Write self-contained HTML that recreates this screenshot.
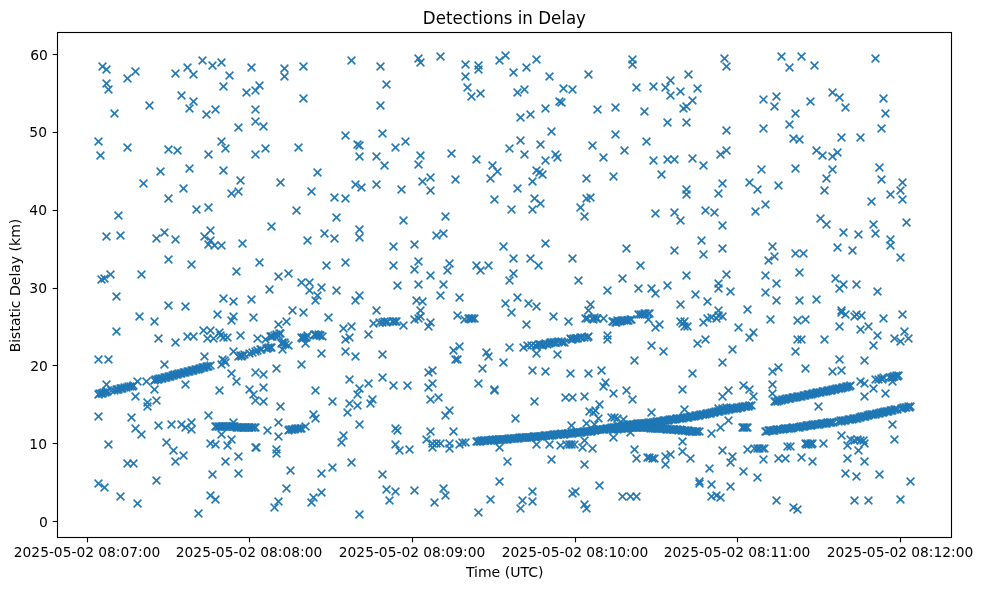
<!DOCTYPE html><html><head><meta charset="utf-8"><title>Detections in Delay</title>
<style>html,body{margin:0;padding:0;background:#fff}svg{display:block}text{font-family:"DejaVu Sans","Liberation Sans",sans-serif;fill:#000}</style></head><body>
<svg width="983" height="590" viewBox="0 0 983 590">
<rect width="983" height="590" fill="#fff"/>
<defs><g id="m" stroke="#1f77b4" stroke-width="1.5" fill="none"><path d="M-3.9-3.9L3.9 3.9"/><path d="M-3.9 3.9L3.9-3.9"/></g></defs>
<g>
<use href="#m" x="255.5" y="447.5"/>
<use href="#m" x="256.5" y="447.5"/>
<use href="#m" x="276.5" y="449.5"/>
<use href="#m" x="276.5" y="453.5"/>
<use href="#m" x="622.5" y="496.5"/>
<use href="#m" x="630.5" y="496.5"/>
<use href="#m" x="636.5" y="496.5"/>
<use href="#m" x="718.5" y="408.5"/>
<use href="#m" x="722.5" y="408.5"/>
<use href="#m" x="726.5" y="407.5"/>
<use href="#m" x="730.5" y="407.5"/>
<use href="#m" x="494.5" y="389.5"/>
<use href="#m" x="494.5" y="390.5"/>
<use href="#m" x="531.5" y="345.5"/>
<use href="#m" x="432.5" y="443.5"/>
<use href="#m" x="436.5" y="443.5"/>
<use href="#m" x="440.5" y="443.5"/>
<use href="#m" x="432.5" y="447.5"/>
<use href="#m" x="449.5" y="443.5"/>
<use href="#m" x="449.5" y="448.5"/>
<use href="#m" x="459.5" y="444.5"/>
<use href="#m" x="462.5" y="442.5"/>
<use href="#m" x="465.5" y="442.5"/>
<use href="#m" x="523.5" y="347.5"/>
<use href="#m" x="527.5" y="345.5"/>
<use href="#m" x="464.5" y="319.5"/>
<use href="#m" x="603.5" y="318.5"/>
<use href="#m" x="860.5" y="381.5"/>
<use href="#m" x="864.5" y="383.5"/>
<use href="#m" x="823.5" y="443.5"/>
<use href="#m" x="185.5" y="384.5"/>
<use href="#m" x="154.5" y="389.5"/>
<use href="#m" x="231.5" y="320.5"/>
<use href="#m" x="231.5" y="373.5"/>
<use href="#m" x="236.5" y="381.5"/>
<use href="#m" x="204.5" y="356.5"/>
<use href="#m" x="233.5" y="351.5"/>
<use href="#m" x="187.5" y="336.5"/>
<use href="#m" x="193.5" y="336.5"/>
<use href="#m" x="203.5" y="330.5"/>
<use href="#m" x="210.5" y="330.5"/>
<use href="#m" x="219.5" y="332.5"/>
<use href="#m" x="207.5" y="338.5"/>
<use href="#m" x="213.5" y="338.5"/>
<use href="#m" x="220.5" y="335.5"/>
<use href="#m" x="223.5" y="337.5"/>
<use href="#m" x="227.5" y="337.5"/>
<use href="#m" x="222.5" y="359.5"/>
<use href="#m" x="224.5" y="360.5"/>
<use href="#m" x="225.5" y="362.5"/>
<use href="#m" x="221.5" y="364.5"/>
<use href="#m" x="430.5" y="177.5"/>
<use href="#m" x="613.5" y="176.5"/>
<use href="#m" x="449.5" y="263.5"/>
<use href="#m" x="282.5" y="349.5"/>
<use href="#m" x="732.5" y="349.5"/>
<use href="#m" x="141.5" y="434.5"/>
<use href="#m" x="572.5" y="89.5"/>
<use href="#m" x="586.5" y="178.5"/>
<use href="#m" x="191.5" y="264.5"/>
<use href="#m" x="453.5" y="350.5"/>
<use href="#m" x="711.5" y="433.5"/>
<use href="#m" x="630.5" y="432.5"/>
<use href="#m" x="480.5" y="93.5"/>
<use href="#m" x="455.5" y="179.5"/>
<use href="#m" x="881.5" y="179.5"/>
<use href="#m" x="326.5" y="265.5"/>
<use href="#m" x="476.5" y="265.5"/>
<use href="#m" x="768.5" y="260.5"/>
<use href="#m" x="343.5" y="435.5"/>
<use href="#m" x="613.5" y="437.5"/>
<use href="#m" x="459.5" y="346.5"/>
<use href="#m" x="278.5" y="436.5"/>
<use href="#m" x="467.5" y="87.5"/>
<use href="#m" x="168.5" y="259.5"/>
<use href="#m" x="488.5" y="265.5"/>
<use href="#m" x="486.5" y="352.5"/>
<use href="#m" x="873.5" y="345.5"/>
<use href="#m" x="430.5" y="431.5"/>
<use href="#m" x="453.5" y="431.5"/>
<use href="#m" x="181.5" y="95.5"/>
<use href="#m" x="345.5" y="262.5"/>
<use href="#m" x="321.5" y="353.5"/>
<use href="#m" x="426.5" y="439.5"/>
<use href="#m" x="894.5" y="439.5"/>
<use href="#m" x="317.5" y="172.5"/>
<use href="#m" x="422.5" y="181.5"/>
<use href="#m" x="572.5" y="258.5"/>
<use href="#m" x="345.5" y="351.5"/>
<use href="#m" x="857.5" y="439.5"/>
<use href="#m" x="854.5" y="440.5"/>
<use href="#m" x="860.5" y="440.5"/>
<use href="#m" x="863.5" y="440.5"/>
<use href="#m" x="776.5" y="96.5"/>
<use href="#m" x="160.5" y="171.5"/>
<use href="#m" x="280.5" y="182.5"/>
<use href="#m" x="490.5" y="178.5"/>
<use href="#m" x="749.5" y="182.5"/>
<use href="#m" x="902.5" y="182.5"/>
<use href="#m" x="900.5" y="257.5"/>
<use href="#m" x="191.5" y="429.5"/>
<use href="#m" x="584.5" y="440.5"/>
<use href="#m" x="471.5" y="96.5"/>
<use href="#m" x="563.5" y="88.5"/>
<use href="#m" x="305.5" y="343.5"/>
<use href="#m" x="850.5" y="439.5"/>
<use href="#m" x="143.5" y="183.5"/>
<use href="#m" x="722.5" y="183.5"/>
<use href="#m" x="418.5" y="261.5"/>
<use href="#m" x="774.5" y="256.5"/>
<use href="#m" x="175.5" y="342.5"/>
<use href="#m" x="135.5" y="428.5"/>
<use href="#m" x="303.5" y="98.5"/>
<use href="#m" x="636.5" y="87.5"/>
<use href="#m" x="761.5" y="169.5"/>
<use href="#m" x="447.5" y="270.5"/>
<use href="#m" x="480.5" y="270.5"/>
<use href="#m" x="488.5" y="356.5"/>
<use href="#m" x="900.5" y="341.5"/>
<use href="#m" x="185.5" y="427.5"/>
<use href="#m" x="166.5" y="442.5"/>
<use href="#m" x="341.5" y="442.5"/>
<use href="#m" x="720.5" y="427.5"/>
<use href="#m" x="198.5" y="513.5"/>
<use href="#m" x="883.5" y="98.5"/>
<use href="#m" x="763.5" y="99.5"/>
<use href="#m" x="189.5" y="168.5"/>
<use href="#m" x="778.5" y="185.5"/>
<use href="#m" x="864.5" y="443.5"/>
<use href="#m" x="478.5" y="512.5"/>
<use href="#m" x="879.5" y="167.5"/>
<use href="#m" x="345.5" y="339.5"/>
<use href="#m" x="705.5" y="339.5"/>
<use href="#m" x="158.5" y="425.5"/>
<use href="#m" x="571.5" y="425.5"/>
<use href="#m" x="566.5" y="444.5"/>
<use href="#m" x="569.5" y="444.5"/>
<use href="#m" x="571.5" y="444.5"/>
<use href="#m" x="574.5" y="444.5"/>
<use href="#m" x="703.5" y="254.5"/>
<use href="#m" x="607.5" y="339.5"/>
<use href="#m" x="455.5" y="359.5"/>
<use href="#m" x="193.5" y="101.5"/>
<use href="#m" x="288.5" y="273.5"/>
<use href="#m" x="414.5" y="269.5"/>
<use href="#m" x="158.5" y="338.5"/>
<use href="#m" x="894.5" y="338.5"/>
<use href="#m" x="908.5" y="338.5"/>
<use href="#m" x="171.5" y="424.5"/>
<use href="#m" x="181.5" y="424.5"/>
<use href="#m" x="560.5" y="445.5"/>
<use href="#m" x="892.5" y="424.5"/>
<use href="#m" x="847.5" y="445.5"/>
<use href="#m" x="594.5" y="424.5"/>
<use href="#m" x="559.5" y="101.5"/>
<use href="#m" x="457.5" y="359.5"/>
<use href="#m" x="561.5" y="102.5"/>
<use href="#m" x="183.5" y="188.5"/>
<use href="#m" x="492.5" y="165.5"/>
<use href="#m" x="703.5" y="165.5"/>
<use href="#m" x="141.5" y="274.5"/>
<use href="#m" x="640.5" y="265.5"/>
<use href="#m" x="726.5" y="274.5"/>
<use href="#m" x="349.5" y="337.5"/>
<use href="#m" x="634.5" y="360.5"/>
<use href="#m" x="749.5" y="337.5"/>
<use href="#m" x="864.5" y="360.5"/>
<use href="#m" x="586.5" y="423.5"/>
<use href="#m" x="557.5" y="354.5"/>
<use href="#m" x="127.5" y="78.5"/>
<use href="#m" x="418.5" y="164.5"/>
<use href="#m" x="497.5" y="171.5"/>
<use href="#m" x="757.5" y="189.5"/>
<use href="#m" x="430.5" y="275.5"/>
<use href="#m" x="765.5" y="275.5"/>
<use href="#m" x="852.5" y="250.5"/>
<use href="#m" x="191.5" y="422.5"/>
<use href="#m" x="278.5" y="422.5"/>
<use href="#m" x="582.5" y="447.5"/>
<use href="#m" x="586.5" y="508.5"/>
<use href="#m" x="210.5" y="443.5"/>
<use href="#m" x="430.5" y="190.5"/>
<use href="#m" x="900.5" y="190.5"/>
<use href="#m" x="278.5" y="276.5"/>
<use href="#m" x="607.5" y="335.5"/>
<use href="#m" x="722.5" y="362.5"/>
<use href="#m" x="877.5" y="335.5"/>
<use href="#m" x="267.5" y="430.5"/>
<use href="#m" x="592.5" y="448.5"/>
<use href="#m" x="757.5" y="448.5"/>
<use href="#m" x="759.5" y="448.5"/>
<use href="#m" x="764.5" y="448.5"/>
<use href="#m" x="274.5" y="507.5"/>
<use href="#m" x="754.5" y="448.5"/>
<use href="#m" x="762.5" y="448.5"/>
<use href="#m" x="787.5" y="446.5"/>
<use href="#m" x="355.5" y="184.5"/>
<use href="#m" x="499.5" y="447.5"/>
<use href="#m" x="149.5" y="105.5"/>
<use href="#m" x="284.5" y="76.5"/>
<use href="#m" x="465.5" y="76.5"/>
<use href="#m" x="311.5" y="191.5"/>
<use href="#m" x="626.5" y="248.5"/>
<use href="#m" x="722.5" y="248.5"/>
<use href="#m" x="355.5" y="356.5"/>
<use href="#m" x="634.5" y="449.5"/>
<use href="#m" x="728.5" y="420.5"/>
<use href="#m" x="747.5" y="449.5"/>
<use href="#m" x="697.5" y="88.5"/>
<use href="#m" x="774.5" y="106.5"/>
<use href="#m" x="622.5" y="278.5"/>
<use href="#m" x="164.5" y="364.5"/>
<use href="#m" x="301.5" y="364.5"/>
<use href="#m" x="697.5" y="343.5"/>
<use href="#m" x="173.5" y="450.5"/>
<use href="#m" x="409.5" y="449.5"/>
<use href="#m" x="722.5" y="450.5"/>
<use href="#m" x="841.5" y="435.5"/>
<use href="#m" x="858.5" y="450.5"/>
<use href="#m" x="623.5" y="419.5"/>
<use href="#m" x="588.5" y="74.5"/>
<use href="#m" x="615.5" y="107.5"/>
<use href="#m" x="845.5" y="107.5"/>
<use href="#m" x="718.5" y="193.5"/>
<use href="#m" x="772.5" y="246.5"/>
<use href="#m" x="753.5" y="332.5"/>
<use href="#m" x="315.5" y="418.5"/>
<use href="#m" x="598.5" y="418.5"/>
<use href="#m" x="584.5" y="504.5"/>
<use href="#m" x="193.5" y="74.5"/>
<use href="#m" x="617.5" y="418.5"/>
<use href="#m" x="790.5" y="446.5"/>
<use href="#m" x="614.5" y="417.5"/>
<use href="#m" x="175.5" y="73.5"/>
<use href="#m" x="476.5" y="159.5"/>
<use href="#m" x="189.5" y="108.5"/>
<use href="#m" x="839.5" y="97.5"/>
<use href="#m" x="890.5" y="194.5"/>
<use href="#m" x="578.5" y="280.5"/>
<use href="#m" x="890.5" y="245.5"/>
<use href="#m" x="904.5" y="331.5"/>
<use href="#m" x="839.5" y="359.5"/>
<use href="#m" x="131.5" y="417.5"/>
<use href="#m" x="611.5" y="417.5"/>
<use href="#m" x="137.5" y="503.5"/>
<use href="#m" x="214.5" y="245.5"/>
<use href="#m" x="208.5" y="244.5"/>
<use href="#m" x="503.5" y="246.5"/>
<use href="#m" x="503.5" y="362.5"/>
<use href="#m" x="215.5" y="444.5"/>
<use href="#m" x="359.5" y="424.5"/>
<use href="#m" x="359.5" y="514.5"/>
<use href="#m" x="215.5" y="109.5"/>
<use href="#m" x="778.5" y="367.5"/>
<use href="#m" x="597.5" y="109.5"/>
<use href="#m" x="414.5" y="244.5"/>
<use href="#m" x="311.5" y="502.5"/>
<use href="#m" x="434.5" y="502.5"/>
<use href="#m" x="309.5" y="282.5"/>
<use href="#m" x="135.5" y="71.5"/>
<use href="#m" x="557.5" y="157.5"/>
<use href="#m" x="603.5" y="157.5"/>
<use href="#m" x="301.5" y="282.5"/>
<use href="#m" x="837.5" y="247.5"/>
<use href="#m" x="276.5" y="368.5"/>
<use href="#m" x="482.5" y="368.5"/>
<use href="#m" x="860.5" y="329.5"/>
<use href="#m" x="208.5" y="415.5"/>
<use href="#m" x="445.5" y="415.5"/>
<use href="#m" x="549.5" y="444.5"/>
<use href="#m" x="278.5" y="501.5"/>
<use href="#m" x="549.5" y="76.5"/>
<use href="#m" x="590.5" y="197.5"/>
<use href="#m" x="359.5" y="156.5"/>
<use href="#m" x="361.5" y="187.5"/>
<use href="#m" x="793.5" y="507.5"/>
<use href="#m" x="644.5" y="111.5"/>
<use href="#m" x="692.5" y="100.5"/>
<use href="#m" x="334.5" y="197.5"/>
<use href="#m" x="692.5" y="158.5"/>
<use href="#m" x="776.5" y="283.5"/>
<use href="#m" x="116.5" y="331.5"/>
<use href="#m" x="343.5" y="328.5"/>
<use href="#m" x="183.5" y="455.5"/>
<use href="#m" x="313.5" y="414.5"/>
<use href="#m" x="776.5" y="500.5"/>
<use href="#m" x="854.5" y="500.5"/>
<use href="#m" x="868.5" y="500.5"/>
<use href="#m" x="718.5" y="283.5"/>
<use href="#m" x="259.5" y="85.5"/>
<use href="#m" x="168.5" y="198.5"/>
<use href="#m" x="420.5" y="155.5"/>
<use href="#m" x="259.5" y="262.5"/>
<use href="#m" x="418.5" y="284.5"/>
<use href="#m" x="443.5" y="284.5"/>
<use href="#m" x="835.5" y="278.5"/>
<use href="#m" x="843.5" y="284.5"/>
<use href="#m" x="856.5" y="284.5"/>
<use href="#m" x="432.5" y="370.5"/>
<use href="#m" x="601.5" y="370.5"/>
<use href="#m" x="738.5" y="327.5"/>
<use href="#m" x="841.5" y="370.5"/>
<use href="#m" x="732.5" y="456.5"/>
<use href="#m" x="215.5" y="499.5"/>
<use href="#m" x="490.5" y="499.5"/>
<use href="#m" x="900.5" y="499.5"/>
<use href="#m" x="478.5" y="69.5"/>
<use href="#m" x="345.5" y="198.5"/>
<use href="#m" x="586.5" y="198.5"/>
<use href="#m" x="114.5" y="113.5"/>
<use href="#m" x="795.5" y="113.5"/>
<use href="#m" x="795.5" y="168.5"/>
<use href="#m" x="795.5" y="253.5"/>
<use href="#m" x="651.5" y="345.5"/>
<use href="#m" x="795.5" y="351.5"/>
<use href="#m" x="284.5" y="68.5"/>
<use href="#m" x="885.5" y="113.5"/>
<use href="#m" x="208.5" y="154.5"/>
<use href="#m" x="494.5" y="199.5"/>
<use href="#m" x="555.5" y="154.5"/>
<use href="#m" x="720.5" y="154.5"/>
<use href="#m" x="902.5" y="199.5"/>
<use href="#m" x="210.5" y="240.5"/>
<use href="#m" x="307.5" y="240.5"/>
<use href="#m" x="701.5" y="240.5"/>
<use href="#m" x="351.5" y="326.5"/>
<use href="#m" x="428.5" y="326.5"/>
<use href="#m" x="772.5" y="371.5"/>
<use href="#m" x="839.5" y="326.5"/>
<use href="#m" x="868.5" y="326.5"/>
<use href="#m" x="347.5" y="412.5"/>
<use href="#m" x="651.5" y="412.5"/>
<use href="#m" x="649.5" y="457.5"/>
<use href="#m" x="593.5" y="412.5"/>
<use href="#m" x="647.5" y="457.5"/>
<use href="#m" x="652.5" y="458.5"/>
<use href="#m" x="206.5" y="114.5"/>
<use href="#m" x="789.5" y="67.5"/>
<use href="#m" x="451.5" y="153.5"/>
<use href="#m" x="175.5" y="239.5"/>
<use href="#m" x="890.5" y="239.5"/>
<use href="#m" x="403.5" y="325.5"/>
<use href="#m" x="428.5" y="372.5"/>
<use href="#m" x="636.5" y="458.5"/>
<use href="#m" x="690.5" y="458.5"/>
<use href="#m" x="778.5" y="458.5"/>
<use href="#m" x="785.5" y="458.5"/>
<use href="#m" x="847.5" y="458.5"/>
<use href="#m" x="313.5" y="497.5"/>
<use href="#m" x="720.5" y="497.5"/>
<use href="#m" x="187.5" y="67.5"/>
<use href="#m" x="545.5" y="108.5"/>
<use href="#m" x="401.5" y="189.5"/>
<use href="#m" x="545.5" y="160.5"/>
<use href="#m" x="545.5" y="243.5"/>
<use href="#m" x="257.5" y="338.5"/>
<use href="#m" x="545.5" y="371.5"/>
<use href="#m" x="589.5" y="411.5"/>
<use href="#m" x="653.5" y="86.5"/>
<use href="#m" x="653.5" y="160.5"/>
<use href="#m" x="509.5" y="280.5"/>
<use href="#m" x="509.5" y="347.5"/>
<use href="#m" x="797.5" y="339.5"/>
<use href="#m" x="221.5" y="434.5"/>
<use href="#m" x="595.5" y="410.5"/>
<use href="#m" x="797.5" y="509.5"/>
<use href="#m" x="303.5" y="66.5"/>
<use href="#m" x="688.5" y="74.5"/>
<use href="#m" x="726.5" y="66.5"/>
<use href="#m" x="832.5" y="92.5"/>
<use href="#m" x="832.5" y="156.5"/>
<use href="#m" x="837.5" y="152.5"/>
<use href="#m" x="832.5" y="169.5"/>
<use href="#m" x="871.5" y="201.5"/>
<use href="#m" x="156.5" y="238.5"/>
<use href="#m" x="334.5" y="238.5"/>
<use href="#m" x="321.5" y="287.5"/>
<use href="#m" x="278.5" y="324.5"/>
<use href="#m" x="570.5" y="373.5"/>
<use href="#m" x="588.5" y="373.5"/>
<use href="#m" x="692.5" y="373.5"/>
<use href="#m" x="832.5" y="371.5"/>
<use href="#m" x="449.5" y="410.5"/>
<use href="#m" x="551.5" y="459.5"/>
<use href="#m" x="763.5" y="459.5"/>
<use href="#m" x="120.5" y="496.5"/>
<use href="#m" x="711.5" y="496.5"/>
<use href="#m" x="221.5" y="245.5"/>
<use href="#m" x="212.5" y="65.5"/>
<use href="#m" x="359.5" y="237.5"/>
<use href="#m" x="638.5" y="288.5"/>
<use href="#m" x="651.5" y="288.5"/>
<use href="#m" x="718.5" y="288.5"/>
<use href="#m" x="839.5" y="288.5"/>
<use href="#m" x="263.5" y="374.5"/>
<use href="#m" x="210.5" y="495.5"/>
<use href="#m" x="445.5" y="495.5"/>
<use href="#m" x="716.5" y="495.5"/>
<use href="#m" x="255.5" y="90.5"/>
<use href="#m" x="255.5" y="109.5"/>
<use href="#m" x="478.5" y="65.5"/>
<use href="#m" x="255.5" y="154.5"/>
<use href="#m" x="255.5" y="372.5"/>
<use href="#m" x="399.5" y="450.5"/>
<use href="#m" x="687.5" y="326.5"/>
<use href="#m" x="654.5" y="458.5"/>
<use href="#m" x="223.5" y="86.5"/>
<use href="#m" x="465.5" y="64.5"/>
<use href="#m" x="632.5" y="64.5"/>
<use href="#m" x="542.5" y="174.5"/>
<use href="#m" x="110.5" y="274.5"/>
<use href="#m" x="686.5" y="106.5"/>
<use href="#m" x="177.5" y="150.5"/>
<use href="#m" x="223.5" y="170.5"/>
<use href="#m" x="624.5" y="150.5"/>
<use href="#m" x="726.5" y="150.5"/>
<use href="#m" x="686.5" y="189.5"/>
<use href="#m" x="686.5" y="194.5"/>
<use href="#m" x="204.5" y="236.5"/>
<use href="#m" x="269.5" y="289.5"/>
<use href="#m" x="799.5" y="272.5"/>
<use href="#m" x="686.5" y="275.5"/>
<use href="#m" x="430.5" y="322.5"/>
<use href="#m" x="655.5" y="327.5"/>
<use href="#m" x="703.5" y="322.5"/>
<use href="#m" x="175.5" y="461.5"/>
<use href="#m" x="507.5" y="461.5"/>
<use href="#m" x="864.5" y="461.5"/>
<use href="#m" x="168.5" y="149.5"/>
<use href="#m" x="765.5" y="204.5"/>
<use href="#m" x="336.5" y="290.5"/>
<use href="#m" x="607.5" y="290.5"/>
<use href="#m" x="368.5" y="334.5"/>
<use href="#m" x="351.5" y="462.5"/>
<use href="#m" x="730.5" y="462.5"/>
<use href="#m" x="120.5" y="235.5"/>
<use href="#m" x="309.5" y="290.5"/>
<use href="#m" x="436.5" y="235.5"/>
<use href="#m" x="397.5" y="285.5"/>
<use href="#m" x="154.5" y="321.5"/>
<use href="#m" x="286.5" y="321.5"/>
<use href="#m" x="568.5" y="321.5"/>
<use href="#m" x="397.5" y="430.5"/>
<use href="#m" x="572.5" y="493.5"/>
<use href="#m" x="108.5" y="89.5"/>
<use href="#m" x="420.5" y="62.5"/>
<use href="#m" x="513.5" y="72.5"/>
<use href="#m" x="225.5" y="148.5"/>
<use href="#m" x="265.5" y="148.5"/>
<use href="#m" x="509.5" y="148.5"/>
<use href="#m" x="540.5" y="203.5"/>
<use href="#m" x="513.5" y="258.5"/>
<use href="#m" x="513.5" y="273.5"/>
<use href="#m" x="730.5" y="291.5"/>
<use href="#m" x="858.5" y="234.5"/>
<use href="#m" x="877.5" y="291.5"/>
<use href="#m" x="108.5" y="359.5"/>
<use href="#m" x="797.5" y="320.5"/>
<use href="#m" x="801.5" y="339.5"/>
<use href="#m" x="684.5" y="321.5"/>
<use href="#m" x="684.5" y="326.5"/>
<use href="#m" x="147.5" y="406.5"/>
<use href="#m" x="108.5" y="444.5"/>
<use href="#m" x="127.5" y="463.5"/>
<use href="#m" x="133.5" y="463.5"/>
<use href="#m" x="225.5" y="461.5"/>
<use href="#m" x="280.5" y="406.5"/>
<use href="#m" x="684.5" y="409.5"/>
<use href="#m" x="801.5" y="457.5"/>
<use href="#m" x="321.5" y="492.5"/>
<use href="#m" x="221.5" y="62.5"/>
<use href="#m" x="683.5" y="108.5"/>
<use href="#m" x="539.5" y="172.5"/>
<use href="#m" x="251.5" y="67.5"/>
<use href="#m" x="127.5" y="147.5"/>
<use href="#m" x="298.5" y="147.5"/>
<use href="#m" x="395.5" y="147.5"/>
<use href="#m" x="324.5" y="233.5"/>
<use href="#m" x="443.5" y="233.5"/>
<use href="#m" x="765.5" y="292.5"/>
<use href="#m" x="875.5" y="233.5"/>
<use href="#m" x="414.5" y="319.5"/>
<use href="#m" x="648.5" y="319.5"/>
<use href="#m" x="770.5" y="319.5"/>
<use href="#m" x="357.5" y="405.5"/>
<use href="#m" x="395.5" y="428.5"/>
<use href="#m" x="395.5" y="444.5"/>
<use href="#m" x="584.5" y="464.5"/>
<use href="#m" x="395.5" y="491.5"/>
<use href="#m" x="575.5" y="491.5"/>
<use href="#m" x="106.5" y="69.5"/>
<use href="#m" x="255.5" y="121.5"/>
<use href="#m" x="499.5" y="60.5"/>
<use href="#m" x="202.5" y="60.5"/>
<use href="#m" x="351.5" y="60.5"/>
<use href="#m" x="208.5" y="207.5"/>
<use href="#m" x="580.5" y="207.5"/>
<use href="#m" x="826.5" y="178.5"/>
<use href="#m" x="106.5" y="236.5"/>
<use href="#m" x="164.5" y="232.5"/>
<use href="#m" x="538.5" y="265.5"/>
<use href="#m" x="655.5" y="293.5"/>
<use href="#m" x="803.5" y="253.5"/>
<use href="#m" x="843.5" y="232.5"/>
<use href="#m" x="349.5" y="379.5"/>
<use href="#m" x="659.5" y="324.5"/>
<use href="#m" x="682.5" y="323.5"/>
<use href="#m" x="707.5" y="318.5"/>
<use href="#m" x="716.5" y="318.5"/>
<use href="#m" x="883.5" y="318.5"/>
<use href="#m" x="227.5" y="445.5"/>
<use href="#m" x="515.5" y="418.5"/>
<use href="#m" x="599.5" y="404.5"/>
<use href="#m" x="682.5" y="441.5"/>
<use href="#m" x="682.5" y="451.5"/>
<use href="#m" x="414.5" y="490.5"/>
<use href="#m" x="106.5" y="83.5"/>
<use href="#m" x="418.5" y="318.5"/>
<use href="#m" x="711.5" y="317.5"/>
<use href="#m" x="393.5" y="246.5"/>
<use href="#m" x="393.5" y="265.5"/>
<use href="#m" x="632.5" y="59.5"/>
<use href="#m" x="686.5" y="122.5"/>
<use href="#m" x="359.5" y="145.5"/>
<use href="#m" x="592.5" y="145.5"/>
<use href="#m" x="695.5" y="294.5"/>
<use href="#m" x="253.5" y="317.5"/>
<use href="#m" x="328.5" y="317.5"/>
<use href="#m" x="349.5" y="403.5"/>
<use href="#m" x="370.5" y="403.5"/>
<use href="#m" x="892.5" y="381.5"/>
<use href="#m" x="517.5" y="92.5"/>
<use href="#m" x="517.5" y="188.5"/>
<use href="#m" x="661.5" y="174.5"/>
<use href="#m" x="373.5" y="323.5"/>
<use href="#m" x="805.5" y="368.5"/>
<use href="#m" x="418.5" y="58.5"/>
<use href="#m" x="536.5" y="59.5"/>
<use href="#m" x="680.5" y="91.5"/>
<use href="#m" x="724.5" y="58.5"/>
<use href="#m" x="875.5" y="58.5"/>
<use href="#m" x="196.5" y="209.5"/>
<use href="#m" x="357.5" y="144.5"/>
<use href="#m" x="511.5" y="209.5"/>
<use href="#m" x="540.5" y="144.5"/>
<use href="#m" x="824.5" y="190.5"/>
<use href="#m" x="210.5" y="230.5"/>
<use href="#m" x="104.5" y="278.5"/>
<use href="#m" x="317.5" y="295.5"/>
<use href="#m" x="359.5" y="295.5"/>
<use href="#m" x="440.5" y="295.5"/>
<use href="#m" x="139.5" y="316.5"/>
<use href="#m" x="137.5" y="381.5"/>
<use href="#m" x="146.5" y="381.5"/>
<use href="#m" x="420.5" y="316.5"/>
<use href="#m" x="553.5" y="316.5"/>
<use href="#m" x="536.5" y="353.5"/>
<use href="#m" x="680.5" y="321.5"/>
<use href="#m" x="722.5" y="316.5"/>
<use href="#m" x="854.5" y="316.5"/>
<use href="#m" x="824.5" y="339.5"/>
<use href="#m" x="147.5" y="402.5"/>
<use href="#m" x="332.5" y="467.5"/>
<use href="#m" x="536.5" y="444.5"/>
<use href="#m" x="286.5" y="488.5"/>
<use href="#m" x="443.5" y="488.5"/>
<use href="#m" x="229.5" y="75.5"/>
<use href="#m" x="805.5" y="319.5"/>
<use href="#m" x="536.5" y="170.5"/>
<use href="#m" x="789.5" y="124.5"/>
<use href="#m" x="296.5" y="210.5"/>
<use href="#m" x="705.5" y="210.5"/>
<use href="#m" x="116.5" y="296.5"/>
<use href="#m" x="359.5" y="229.5"/>
<use href="#m" x="457.5" y="315.5"/>
<use href="#m" x="605.5" y="382.5"/>
<use href="#m" x="718.5" y="315.5"/>
<use href="#m" x="861.5" y="315.5"/>
<use href="#m" x="263.5" y="401.5"/>
<use href="#m" x="332.5" y="401.5"/>
<use href="#m" x="709.5" y="468.5"/>
<use href="#m" x="104.5" y="487.5"/>
<use href="#m" x="231.5" y="193.5"/>
<use href="#m" x="440.5" y="56.5"/>
<use href="#m" x="781.5" y="56.5"/>
<use href="#m" x="801.5" y="56.5"/>
<use href="#m" x="755.5" y="211.5"/>
<use href="#m" x="459.5" y="297.5"/>
<use href="#m" x="517.5" y="297.5"/>
<use href="#m" x="217.5" y="314.5"/>
<use href="#m" x="368.5" y="383.5"/>
<use href="#m" x="432.5" y="383.5"/>
<use href="#m" x="478.5" y="383.5"/>
<use href="#m" x="663.5" y="351.5"/>
<use href="#m" x="845.5" y="314.5"/>
<use href="#m" x="856.5" y="314.5"/>
<use href="#m" x="902.5" y="314.5"/>
<use href="#m" x="156.5" y="400.5"/>
<use href="#m" x="231.5" y="439.5"/>
<use href="#m" x="255.5" y="400.5"/>
<use href="#m" x="730.5" y="486.5"/>
<use href="#m" x="102.5" y="66.5"/>
<use href="#m" x="246.5" y="92.5"/>
<use href="#m" x="534.5" y="198.5"/>
<use href="#m" x="822.5" y="155.5"/>
<use href="#m" x="534.5" y="401.5"/>
<use href="#m" x="106.5" y="384.5"/>
<use href="#m" x="520.5" y="117.5"/>
<use href="#m" x="376.5" y="156.5"/>
<use href="#m" x="376.5" y="184.5"/>
<use href="#m" x="520.5" y="508.5"/>
<use href="#m" x="263.5" y="126.5"/>
<use href="#m" x="505.5" y="55.5"/>
<use href="#m" x="221.5" y="141.5"/>
<use href="#m" x="405.5" y="141.5"/>
<use href="#m" x="646.5" y="141.5"/>
<use href="#m" x="714.5" y="212.5"/>
<use href="#m" x="101.5" y="279.5"/>
<use href="#m" x="223.5" y="298.5"/>
<use href="#m" x="772.5" y="384.5"/>
<use href="#m" x="372.5" y="399.5"/>
<use href="#m" x="290.5" y="470.5"/>
<use href="#m" x="430.5" y="399.5"/>
<use href="#m" x="632.5" y="399.5"/>
<use href="#m" x="389.5" y="500.5"/>
<use href="#m" x="599.5" y="485.5"/>
<use href="#m" x="665.5" y="87.5"/>
<use href="#m" x="841.5" y="312.5"/>
<use href="#m" x="520.5" y="140.5"/>
<use href="#m" x="655.5" y="213.5"/>
<use href="#m" x="271.5" y="226.5"/>
<use href="#m" x="233.5" y="316.5"/>
<use href="#m" x="303.5" y="312.5"/>
<use href="#m" x="511.5" y="312.5"/>
<use href="#m" x="393.5" y="385.5"/>
<use href="#m" x="407.5" y="385.5"/>
<use href="#m" x="743.5" y="385.5"/>
<use href="#m" x="233.5" y="422.5"/>
<use href="#m" x="665.5" y="456.5"/>
<use href="#m" x="665.5" y="464.5"/>
<use href="#m" x="743.5" y="471.5"/>
<use href="#m" x="711.5" y="484.5"/>
<use href="#m" x="100.5" y="155.5"/>
<use href="#m" x="532.5" y="181.5"/>
<use href="#m" x="532.5" y="209.5"/>
<use href="#m" x="251.5" y="299.5"/>
<use href="#m" x="532.5" y="370.5"/>
<use href="#m" x="532.5" y="491.5"/>
<use href="#m" x="532.5" y="501.5"/>
<use href="#m" x="810.5" y="101.5"/>
<use href="#m" x="881.5" y="128.5"/>
<use href="#m" x="799.5" y="139.5"/>
<use href="#m" x="355.5" y="300.5"/>
<use href="#m" x="416.5" y="300.5"/>
<use href="#m" x="722.5" y="225.5"/>
<use href="#m" x="776.5" y="300.5"/>
<use href="#m" x="799.5" y="300.5"/>
<use href="#m" x="603.5" y="386.5"/>
<use href="#m" x="438.5" y="397.5"/>
<use href="#m" x="565.5" y="397.5"/>
<use href="#m" x="572.5" y="397.5"/>
<use href="#m" x="522.5" y="500.5"/>
<use href="#m" x="699.5" y="483.5"/>
<use href="#m" x="763.5" y="128.5"/>
<use href="#m" x="315.5" y="300.5"/>
<use href="#m" x="588.5" y="310.5"/>
<use href="#m" x="718.5" y="310.5"/>
<use href="#m" x="386.5" y="84.5"/>
<use href="#m" x="667.5" y="122.5"/>
<use href="#m" x="667.5" y="159.5"/>
<use href="#m" x="793.5" y="138.5"/>
<use href="#m" x="667.5" y="285.5"/>
<use href="#m" x="826.5" y="224.5"/>
<use href="#m" x="873.5" y="224.5"/>
<use href="#m" x="292.5" y="310.5"/>
<use href="#m" x="376.5" y="310.5"/>
<use href="#m" x="420.5" y="310.5"/>
<use href="#m" x="841.5" y="310.5"/>
<use href="#m" x="135.5" y="396.5"/>
<use href="#m" x="584.5" y="396.5"/>
<use href="#m" x="722.5" y="396.5"/>
<use href="#m" x="753.5" y="396.5"/>
<use href="#m" x="864.5" y="396.5"/>
<use href="#m" x="530.5" y="114.5"/>
<use href="#m" x="98.5" y="141.5"/>
<use href="#m" x="118.5" y="215.5"/>
<use href="#m" x="674.5" y="159.5"/>
<use href="#m" x="674.5" y="212.5"/>
<use href="#m" x="233.5" y="301.5"/>
<use href="#m" x="242.5" y="243.5"/>
<use href="#m" x="422.5" y="301.5"/>
<use href="#m" x="530.5" y="258.5"/>
<use href="#m" x="674.5" y="250.5"/>
<use href="#m" x="707.5" y="301.5"/>
<use href="#m" x="98.5" y="359.5"/>
<use href="#m" x="263.5" y="387.5"/>
<use href="#m" x="428.5" y="387.5"/>
<use href="#m" x="98.5" y="416.5"/>
<use href="#m" x="321.5" y="473.5"/>
<use href="#m" x="818.5" y="406.5"/>
<use href="#m" x="845.5" y="473.5"/>
<use href="#m" x="98.5" y="483.5"/>
<use href="#m" x="386.5" y="489.5"/>
<use href="#m" x="380.5" y="66.5"/>
<use href="#m" x="380.5" y="105.5"/>
<use href="#m" x="524.5" y="89.5"/>
<use href="#m" x="524.5" y="154.5"/>
<use href="#m" x="236.5" y="271.5"/>
<use href="#m" x="812.5" y="461.5"/>
<use href="#m" x="726.5" y="130.5"/>
<use href="#m" x="445.5" y="216.5"/>
<use href="#m" x="584.5" y="216.5"/>
<use href="#m" x="841.5" y="137.5"/>
<use href="#m" x="860.5" y="137.5"/>
<use href="#m" x="359.5" y="388.5"/>
<use href="#m" x="747.5" y="309.5"/>
<use href="#m" x="873.5" y="388.5"/>
<use href="#m" x="212.5" y="474.5"/>
<use href="#m" x="879.5" y="474.5"/>
<use href="#m" x="499.5" y="481.5"/>
<use href="#m" x="699.5" y="481.5"/>
<use href="#m" x="910.5" y="481.5"/>
<use href="#m" x="551.5" y="131.5"/>
<use href="#m" x="240.5" y="180.5"/>
<use href="#m" x="336.5" y="217.5"/>
<use href="#m" x="384.5" y="165.5"/>
<use href="#m" x="816.5" y="150.5"/>
<use href="#m" x="505.5" y="303.5"/>
<use href="#m" x="906.5" y="222.5"/>
<use href="#m" x="240.5" y="335.5"/>
<use href="#m" x="249.5" y="389.5"/>
<use href="#m" x="682.5" y="389.5"/>
<use href="#m" x="749.5" y="389.5"/>
<use href="#m" x="253.5" y="394.5"/>
<use href="#m" x="357.5" y="394.5"/>
<use href="#m" x="156.5" y="480.5"/>
<use href="#m" x="528.5" y="303.5"/>
<use href="#m" x="816.5" y="299.5"/>
<use href="#m" x="238.5" y="127.5"/>
<use href="#m" x="670.5" y="95.5"/>
<use href="#m" x="526.5" y="67.5"/>
<use href="#m" x="814.5" y="65.5"/>
<use href="#m" x="238.5" y="191.5"/>
<use href="#m" x="345.5" y="135.5"/>
<use href="#m" x="820.5" y="218.5"/>
<use href="#m" x="590.5" y="304.5"/>
<use href="#m" x="680.5" y="304.5"/>
<use href="#m" x="219.5" y="390.5"/>
<use href="#m" x="382.5" y="377.5"/>
<use href="#m" x="382.5" y="354.5"/>
<use href="#m" x="315.5" y="390.5"/>
<use href="#m" x="526.5" y="324.5"/>
<use href="#m" x="626.5" y="390.5"/>
<use href="#m" x="728.5" y="390.5"/>
<use href="#m" x="238.5" y="456.5"/>
<use href="#m" x="238.5" y="473.5"/>
<use href="#m" x="382.5" y="474.5"/>
<use href="#m" x="613.5" y="393.5"/>
<use href="#m" x="670.5" y="454.5"/>
<use href="#m" x="772.5" y="393.5"/>
<use href="#m" x="885.5" y="393.5"/>
<use href="#m" x="856.5" y="476.5"/>
<use href="#m" x="670.5" y="80.5"/>
<use href="#m" x="757.5" y="477.5"/>
<use href="#m" x="382.5" y="133.5"/>
<use href="#m" x="168.5" y="305.5"/>
<use href="#m" x="615.5" y="134.5"/>
<use href="#m" x="403.5" y="220.5"/>
<use href="#m" x="680.5" y="220.5"/>
<use href="#m" x="185.5" y="306.5"/>
<use href="#m" x="536.5" y="306.5"/>
<use href="#m" x="98.5" y="394.5"/>
<use href="#m" x="99.5" y="393.5"/>
<use href="#m" x="101.5" y="393.5"/>
<use href="#m" x="102.5" y="393.5"/>
<use href="#m" x="103.5" y="392.5"/>
<use href="#m" x="105.5" y="392.5"/>
<use href="#m" x="106.5" y="391.5"/>
<use href="#m" x="107.5" y="391.5"/>
<use href="#m" x="111.5" y="390.5"/>
<use href="#m" x="114.5" y="390.5"/>
<use href="#m" x="116.5" y="389.5"/>
<use href="#m" x="117.5" y="389.5"/>
<use href="#m" x="118.5" y="389.5"/>
<use href="#m" x="120.5" y="388.5"/>
<use href="#m" x="121.5" y="388.5"/>
<use href="#m" x="122.5" y="388.5"/>
<use href="#m" x="124.5" y="387.5"/>
<use href="#m" x="126.5" y="387.5"/>
<use href="#m" x="128.5" y="386.5"/>
<use href="#m" x="130.5" y="386.5"/>
<use href="#m" x="132.5" y="386.5"/>
<use href="#m" x="133.5" y="385.5"/>
<use href="#m" x="154.5" y="380.5"/>
<use href="#m" x="155.5" y="379.5"/>
<use href="#m" x="157.5" y="379.5"/>
<use href="#m" x="158.5" y="379.5"/>
<use href="#m" x="159.5" y="378.5"/>
<use href="#m" x="161.5" y="378.5"/>
<use href="#m" x="162.5" y="378.5"/>
<use href="#m" x="164.5" y="377.5"/>
<use href="#m" x="165.5" y="377.5"/>
<use href="#m" x="166.5" y="377.5"/>
<use href="#m" x="168.5" y="376.5"/>
<use href="#m" x="169.5" y="376.5"/>
<use href="#m" x="170.5" y="376.5"/>
<use href="#m" x="172.5" y="375.5"/>
<use href="#m" x="173.5" y="375.5"/>
<use href="#m" x="174.5" y="374.5"/>
<use href="#m" x="176.5" y="374.5"/>
<use href="#m" x="177.5" y="374.5"/>
<use href="#m" x="178.5" y="373.5"/>
<use href="#m" x="180.5" y="373.5"/>
<use href="#m" x="181.5" y="373.5"/>
<use href="#m" x="183.5" y="372.5"/>
<use href="#m" x="184.5" y="372.5"/>
<use href="#m" x="185.5" y="372.5"/>
<use href="#m" x="187.5" y="371.5"/>
<use href="#m" x="188.5" y="371.5"/>
<use href="#m" x="189.5" y="371.5"/>
<use href="#m" x="191.5" y="370.5"/>
<use href="#m" x="192.5" y="370.5"/>
<use href="#m" x="193.5" y="370.5"/>
<use href="#m" x="195.5" y="369.5"/>
<use href="#m" x="196.5" y="369.5"/>
<use href="#m" x="198.5" y="369.5"/>
<use href="#m" x="199.5" y="368.5"/>
<use href="#m" x="200.5" y="368.5"/>
<use href="#m" x="202.5" y="367.5"/>
<use href="#m" x="203.5" y="367.5"/>
<use href="#m" x="204.5" y="367.5"/>
<use href="#m" x="206.5" y="366.5"/>
<use href="#m" x="207.5" y="366.5"/>
<use href="#m" x="208.5" y="366.5"/>
<use href="#m" x="210.5" y="365.5"/>
<use href="#m" x="238.5" y="356.5"/>
<use href="#m" x="240.5" y="355.5"/>
<use href="#m" x="241.5" y="356.5"/>
<use href="#m" x="242.5" y="355.5"/>
<use href="#m" x="244.5" y="354.5"/>
<use href="#m" x="249.5" y="353.5"/>
<use href="#m" x="252.5" y="352.5"/>
<use href="#m" x="255.5" y="351.5"/>
<use href="#m" x="257.5" y="350.5"/>
<use href="#m" x="260.5" y="349.5"/>
<use href="#m" x="261.5" y="349.5"/>
<use href="#m" x="266.5" y="348.5"/>
<use href="#m" x="267.5" y="348.5"/>
<use href="#m" x="268.5" y="347.5"/>
<use href="#m" x="270.5" y="347.5"/>
<use href="#m" x="271.5" y="347.5"/>
<use href="#m" x="265.5" y="339.5"/>
<use href="#m" x="270.5" y="336.5"/>
<use href="#m" x="271.5" y="336.5"/>
<use href="#m" x="272.5" y="336.5"/>
<use href="#m" x="274.5" y="335.5"/>
<use href="#m" x="276.5" y="334.5"/>
<use href="#m" x="278.5" y="335.5"/>
<use href="#m" x="279.5" y="333.5"/>
<use href="#m" x="280.5" y="333.5"/>
<use href="#m" x="281.5" y="343.5"/>
<use href="#m" x="282.5" y="342.5"/>
<use href="#m" x="284.5" y="342.5"/>
<use href="#m" x="285.5" y="344.5"/>
<use href="#m" x="288.5" y="345.5"/>
<use href="#m" x="301.5" y="337.5"/>
<use href="#m" x="302.5" y="338.5"/>
<use href="#m" x="303.5" y="337.5"/>
<use href="#m" x="305.5" y="337.5"/>
<use href="#m" x="306.5" y="337.5"/>
<use href="#m" x="307.5" y="335.5"/>
<use href="#m" x="314.5" y="334.5"/>
<use href="#m" x="315.5" y="334.5"/>
<use href="#m" x="316.5" y="335.5"/>
<use href="#m" x="318.5" y="334.5"/>
<use href="#m" x="319.5" y="335.5"/>
<use href="#m" x="320.5" y="335.5"/>
<use href="#m" x="322.5" y="336.5"/>
<use href="#m" x="379.5" y="322.5"/>
<use href="#m" x="382.5" y="322.5"/>
<use href="#m" x="384.5" y="321.5"/>
<use href="#m" x="386.5" y="322.5"/>
<use href="#m" x="387.5" y="321.5"/>
<use href="#m" x="392.5" y="321.5"/>
<use href="#m" x="393.5" y="321.5"/>
<use href="#m" x="395.5" y="321.5"/>
<use href="#m" x="396.5" y="321.5"/>
<use href="#m" x="468.5" y="318.5"/>
<use href="#m" x="469.5" y="318.5"/>
<use href="#m" x="471.5" y="318.5"/>
<use href="#m" x="472.5" y="318.5"/>
<use href="#m" x="474.5" y="318.5"/>
<use href="#m" x="535.5" y="345.5"/>
<use href="#m" x="536.5" y="346.5"/>
<use href="#m" x="538.5" y="344.5"/>
<use href="#m" x="539.5" y="344.5"/>
<use href="#m" x="540.5" y="344.5"/>
<use href="#m" x="542.5" y="345.5"/>
<use href="#m" x="543.5" y="344.5"/>
<use href="#m" x="545.5" y="343.5"/>
<use href="#m" x="547.5" y="344.5"/>
<use href="#m" x="549.5" y="343.5"/>
<use href="#m" x="550.5" y="342.5"/>
<use href="#m" x="551.5" y="342.5"/>
<use href="#m" x="553.5" y="342.5"/>
<use href="#m" x="554.5" y="342.5"/>
<use href="#m" x="555.5" y="342.5"/>
<use href="#m" x="558.5" y="341.5"/>
<use href="#m" x="561.5" y="341.5"/>
<use href="#m" x="562.5" y="342.5"/>
<use href="#m" x="564.5" y="342.5"/>
<use href="#m" x="570.5" y="338.5"/>
<use href="#m" x="571.5" y="339.5"/>
<use href="#m" x="572.5" y="339.5"/>
<use href="#m" x="573.5" y="338.5"/>
<use href="#m" x="575.5" y="338.5"/>
<use href="#m" x="576.5" y="338.5"/>
<use href="#m" x="577.5" y="338.5"/>
<use href="#m" x="580.5" y="337.5"/>
<use href="#m" x="581.5" y="337.5"/>
<use href="#m" x="584.5" y="337.5"/>
<use href="#m" x="587.5" y="337.5"/>
<use href="#m" x="588.5" y="336.5"/>
<use href="#m" x="585.5" y="318.5"/>
<use href="#m" x="587.5" y="318.5"/>
<use href="#m" x="592.5" y="318.5"/>
<use href="#m" x="593.5" y="319.5"/>
<use href="#m" x="594.5" y="317.5"/>
<use href="#m" x="596.5" y="318.5"/>
<use href="#m" x="597.5" y="318.5"/>
<use href="#m" x="612.5" y="321.5"/>
<use href="#m" x="613.5" y="321.5"/>
<use href="#m" x="615.5" y="322.5"/>
<use href="#m" x="616.5" y="322.5"/>
<use href="#m" x="617.5" y="320.5"/>
<use href="#m" x="618.5" y="321.5"/>
<use href="#m" x="620.5" y="321.5"/>
<use href="#m" x="621.5" y="320.5"/>
<use href="#m" x="622.5" y="320.5"/>
<use href="#m" x="624.5" y="320.5"/>
<use href="#m" x="626.5" y="320.5"/>
<use href="#m" x="627.5" y="320.5"/>
<use href="#m" x="628.5" y="320.5"/>
<use href="#m" x="630.5" y="319.5"/>
<use href="#m" x="631.5" y="319.5"/>
<use href="#m" x="638.5" y="314.5"/>
<use href="#m" x="640.5" y="314.5"/>
<use href="#m" x="642.5" y="314.5"/>
<use href="#m" x="644.5" y="313.5"/>
<use href="#m" x="645.5" y="313.5"/>
<use href="#m" x="648.5" y="313.5"/>
<use href="#m" x="649.5" y="313.5"/>
<use href="#m" x="215.5" y="426.5"/>
<use href="#m" x="216.5" y="426.5"/>
<use href="#m" x="218.5" y="426.5"/>
<use href="#m" x="219.5" y="426.5"/>
<use href="#m" x="221.5" y="426.5"/>
<use href="#m" x="222.5" y="426.5"/>
<use href="#m" x="223.5" y="426.5"/>
<use href="#m" x="225.5" y="426.5"/>
<use href="#m" x="226.5" y="426.5"/>
<use href="#m" x="227.5" y="426.5"/>
<use href="#m" x="229.5" y="426.5"/>
<use href="#m" x="230.5" y="426.5"/>
<use href="#m" x="232.5" y="426.5"/>
<use href="#m" x="233.5" y="426.5"/>
<use href="#m" x="234.5" y="426.5"/>
<use href="#m" x="236.5" y="427.5"/>
<use href="#m" x="237.5" y="427.5"/>
<use href="#m" x="238.5" y="427.5"/>
<use href="#m" x="240.5" y="427.5"/>
<use href="#m" x="241.5" y="427.5"/>
<use href="#m" x="243.5" y="427.5"/>
<use href="#m" x="244.5" y="427.5"/>
<use href="#m" x="245.5" y="427.5"/>
<use href="#m" x="247.5" y="427.5"/>
<use href="#m" x="248.5" y="427.5"/>
<use href="#m" x="249.5" y="427.5"/>
<use href="#m" x="251.5" y="427.5"/>
<use href="#m" x="252.5" y="427.5"/>
<use href="#m" x="254.5" y="427.5"/>
<use href="#m" x="255.5" y="427.5"/>
<use href="#m" x="288.5" y="430.5"/>
<use href="#m" x="289.5" y="429.5"/>
<use href="#m" x="291.5" y="429.5"/>
<use href="#m" x="292.5" y="429.5"/>
<use href="#m" x="294.5" y="429.5"/>
<use href="#m" x="295.5" y="428.5"/>
<use href="#m" x="297.5" y="428.5"/>
<use href="#m" x="298.5" y="428.5"/>
<use href="#m" x="300.5" y="428.5"/>
<use href="#m" x="301.5" y="428.5"/>
<use href="#m" x="305.5" y="426.5"/>
<use href="#m" x="476.5" y="441.5"/>
<use href="#m" x="477.5" y="441.5"/>
<use href="#m" x="479.5" y="441.5"/>
<use href="#m" x="480.5" y="441.5"/>
<use href="#m" x="481.5" y="440.5"/>
<use href="#m" x="483.5" y="440.5"/>
<use href="#m" x="484.5" y="440.5"/>
<use href="#m" x="485.5" y="440.5"/>
<use href="#m" x="487.5" y="440.5"/>
<use href="#m" x="488.5" y="440.5"/>
<use href="#m" x="490.5" y="440.5"/>
<use href="#m" x="491.5" y="440.5"/>
<use href="#m" x="492.5" y="439.5"/>
<use href="#m" x="494.5" y="440.5"/>
<use href="#m" x="495.5" y="439.5"/>
<use href="#m" x="496.5" y="439.5"/>
<use href="#m" x="498.5" y="439.5"/>
<use href="#m" x="499.5" y="439.5"/>
<use href="#m" x="500.5" y="439.5"/>
<use href="#m" x="502.5" y="439.5"/>
<use href="#m" x="503.5" y="439.5"/>
<use href="#m" x="504.5" y="439.5"/>
<use href="#m" x="506.5" y="439.5"/>
<use href="#m" x="507.5" y="439.5"/>
<use href="#m" x="508.5" y="438.5"/>
<use href="#m" x="510.5" y="438.5"/>
<use href="#m" x="511.5" y="438.5"/>
<use href="#m" x="513.5" y="438.5"/>
<use href="#m" x="514.5" y="438.5"/>
<use href="#m" x="515.5" y="438.5"/>
<use href="#m" x="517.5" y="438.5"/>
<use href="#m" x="518.5" y="438.5"/>
<use href="#m" x="519.5" y="437.5"/>
<use href="#m" x="521.5" y="437.5"/>
<use href="#m" x="522.5" y="437.5"/>
<use href="#m" x="523.5" y="437.5"/>
<use href="#m" x="525.5" y="437.5"/>
<use href="#m" x="526.5" y="437.5"/>
<use href="#m" x="527.5" y="437.5"/>
<use href="#m" x="529.5" y="437.5"/>
<use href="#m" x="530.5" y="437.5"/>
<use href="#m" x="531.5" y="437.5"/>
<use href="#m" x="533.5" y="436.5"/>
<use href="#m" x="534.5" y="436.5"/>
<use href="#m" x="535.5" y="436.5"/>
<use href="#m" x="537.5" y="436.5"/>
<use href="#m" x="538.5" y="436.5"/>
<use href="#m" x="540.5" y="436.5"/>
<use href="#m" x="541.5" y="436.5"/>
<use href="#m" x="542.5" y="436.5"/>
<use href="#m" x="544.5" y="435.5"/>
<use href="#m" x="545.5" y="435.5"/>
<use href="#m" x="546.5" y="435.5"/>
<use href="#m" x="548.5" y="435.5"/>
<use href="#m" x="549.5" y="435.5"/>
<use href="#m" x="550.5" y="435.5"/>
<use href="#m" x="552.5" y="435.5"/>
<use href="#m" x="553.5" y="434.5"/>
<use href="#m" x="554.5" y="434.5"/>
<use href="#m" x="556.5" y="434.5"/>
<use href="#m" x="557.5" y="434.5"/>
<use href="#m" x="558.5" y="434.5"/>
<use href="#m" x="560.5" y="434.5"/>
<use href="#m" x="561.5" y="433.5"/>
<use href="#m" x="563.5" y="434.5"/>
<use href="#m" x="564.5" y="434.5"/>
<use href="#m" x="565.5" y="433.5"/>
<use href="#m" x="567.5" y="433.5"/>
<use href="#m" x="568.5" y="433.5"/>
<use href="#m" x="569.5" y="433.5"/>
<use href="#m" x="571.5" y="433.5"/>
<use href="#m" x="572.5" y="433.5"/>
<use href="#m" x="573.5" y="432.5"/>
<use href="#m" x="575.5" y="432.5"/>
<use href="#m" x="576.5" y="432.5"/>
<use href="#m" x="577.5" y="432.5"/>
<use href="#m" x="579.5" y="432.5"/>
<use href="#m" x="580.5" y="432.5"/>
<use href="#m" x="581.5" y="432.5"/>
<use href="#m" x="583.5" y="431.5"/>
<use href="#m" x="584.5" y="431.5"/>
<use href="#m" x="586.5" y="431.5"/>
<use href="#m" x="587.5" y="431.5"/>
<use href="#m" x="588.5" y="431.5"/>
<use href="#m" x="590.5" y="431.5"/>
<use href="#m" x="591.5" y="431.5"/>
<use href="#m" x="592.5" y="430.5"/>
<use href="#m" x="594.5" y="430.5"/>
<use href="#m" x="595.5" y="430.5"/>
<use href="#m" x="596.5" y="429.5"/>
<use href="#m" x="598.5" y="429.5"/>
<use href="#m" x="599.5" y="429.5"/>
<use href="#m" x="600.5" y="429.5"/>
<use href="#m" x="602.5" y="429.5"/>
<use href="#m" x="603.5" y="429.5"/>
<use href="#m" x="604.5" y="429.5"/>
<use href="#m" x="606.5" y="428.5"/>
<use href="#m" x="607.5" y="428.5"/>
<use href="#m" x="609.5" y="428.5"/>
<use href="#m" x="610.5" y="428.5"/>
<use href="#m" x="611.5" y="427.5"/>
<use href="#m" x="613.5" y="427.5"/>
<use href="#m" x="614.5" y="427.5"/>
<use href="#m" x="615.5" y="427.5"/>
<use href="#m" x="617.5" y="426.5"/>
<use href="#m" x="618.5" y="426.5"/>
<use href="#m" x="619.5" y="426.5"/>
<use href="#m" x="621.5" y="426.5"/>
<use href="#m" x="622.5" y="425.5"/>
<use href="#m" x="623.5" y="425.5"/>
<use href="#m" x="625.5" y="425.5"/>
<use href="#m" x="626.5" y="425.5"/>
<use href="#m" x="627.5" y="425.5"/>
<use href="#m" x="629.5" y="424.5"/>
<use href="#m" x="630.5" y="424.5"/>
<use href="#m" x="632.5" y="424.5"/>
<use href="#m" x="633.5" y="424.5"/>
<use href="#m" x="634.5" y="424.5"/>
<use href="#m" x="636.5" y="424.5"/>
<use href="#m" x="637.5" y="423.5"/>
<use href="#m" x="638.5" y="423.5"/>
<use href="#m" x="640.5" y="423.5"/>
<use href="#m" x="641.5" y="423.5"/>
<use href="#m" x="642.5" y="423.5"/>
<use href="#m" x="644.5" y="423.5"/>
<use href="#m" x="645.5" y="423.5"/>
<use href="#m" x="646.5" y="423.5"/>
<use href="#m" x="648.5" y="422.5"/>
<use href="#m" x="649.5" y="423.5"/>
<use href="#m" x="650.5" y="422.5"/>
<use href="#m" x="652.5" y="422.5"/>
<use href="#m" x="653.5" y="422.5"/>
<use href="#m" x="654.5" y="422.5"/>
<use href="#m" x="656.5" y="421.5"/>
<use href="#m" x="657.5" y="421.5"/>
<use href="#m" x="659.5" y="421.5"/>
<use href="#m" x="660.5" y="421.5"/>
<use href="#m" x="661.5" y="421.5"/>
<use href="#m" x="663.5" y="420.5"/>
<use href="#m" x="664.5" y="420.5"/>
<use href="#m" x="665.5" y="420.5"/>
<use href="#m" x="667.5" y="420.5"/>
<use href="#m" x="668.5" y="420.5"/>
<use href="#m" x="669.5" y="419.5"/>
<use href="#m" x="671.5" y="419.5"/>
<use href="#m" x="672.5" y="419.5"/>
<use href="#m" x="673.5" y="419.5"/>
<use href="#m" x="675.5" y="419.5"/>
<use href="#m" x="676.5" y="418.5"/>
<use href="#m" x="677.5" y="418.5"/>
<use href="#m" x="679.5" y="418.5"/>
<use href="#m" x="680.5" y="418.5"/>
<use href="#m" x="682.5" y="418.5"/>
<use href="#m" x="683.5" y="417.5"/>
<use href="#m" x="684.5" y="417.5"/>
<use href="#m" x="686.5" y="417.5"/>
<use href="#m" x="687.5" y="417.5"/>
<use href="#m" x="688.5" y="417.5"/>
<use href="#m" x="690.5" y="416.5"/>
<use href="#m" x="691.5" y="416.5"/>
<use href="#m" x="692.5" y="416.5"/>
<use href="#m" x="694.5" y="416.5"/>
<use href="#m" x="695.5" y="415.5"/>
<use href="#m" x="696.5" y="415.5"/>
<use href="#m" x="698.5" y="415.5"/>
<use href="#m" x="699.5" y="415.5"/>
<use href="#m" x="700.5" y="414.5"/>
<use href="#m" x="702.5" y="414.5"/>
<use href="#m" x="703.5" y="414.5"/>
<use href="#m" x="705.5" y="414.5"/>
<use href="#m" x="706.5" y="413.5"/>
<use href="#m" x="707.5" y="413.5"/>
<use href="#m" x="709.5" y="413.5"/>
<use href="#m" x="710.5" y="413.5"/>
<use href="#m" x="711.5" y="412.5"/>
<use href="#m" x="713.5" y="412.5"/>
<use href="#m" x="714.5" y="412.5"/>
<use href="#m" x="715.5" y="411.5"/>
<use href="#m" x="717.5" y="411.5"/>
<use href="#m" x="718.5" y="411.5"/>
<use href="#m" x="719.5" y="411.5"/>
<use href="#m" x="721.5" y="410.5"/>
<use href="#m" x="722.5" y="410.5"/>
<use href="#m" x="723.5" y="410.5"/>
<use href="#m" x="725.5" y="410.5"/>
<use href="#m" x="726.5" y="409.5"/>
<use href="#m" x="728.5" y="409.5"/>
<use href="#m" x="729.5" y="409.5"/>
<use href="#m" x="730.5" y="408.5"/>
<use href="#m" x="732.5" y="408.5"/>
<use href="#m" x="733.5" y="408.5"/>
<use href="#m" x="734.5" y="408.5"/>
<use href="#m" x="736.5" y="408.5"/>
<use href="#m" x="737.5" y="408.5"/>
<use href="#m" x="738.5" y="407.5"/>
<use href="#m" x="740.5" y="407.5"/>
<use href="#m" x="741.5" y="407.5"/>
<use href="#m" x="742.5" y="406.5"/>
<use href="#m" x="744.5" y="406.5"/>
<use href="#m" x="745.5" y="406.5"/>
<use href="#m" x="746.5" y="406.5"/>
<use href="#m" x="748.5" y="406.5"/>
<use href="#m" x="749.5" y="405.5"/>
<use href="#m" x="751.5" y="405.5"/>
<use href="#m" x="612.5" y="429.5"/>
<use href="#m" x="613.5" y="429.5"/>
<use href="#m" x="614.5" y="429.5"/>
<use href="#m" x="616.5" y="428.5"/>
<use href="#m" x="617.5" y="429.5"/>
<use href="#m" x="618.5" y="428.5"/>
<use href="#m" x="620.5" y="428.5"/>
<use href="#m" x="621.5" y="428.5"/>
<use href="#m" x="622.5" y="428.5"/>
<use href="#m" x="624.5" y="428.5"/>
<use href="#m" x="625.5" y="428.5"/>
<use href="#m" x="627.5" y="428.5"/>
<use href="#m" x="628.5" y="427.5"/>
<use href="#m" x="629.5" y="427.5"/>
<use href="#m" x="631.5" y="427.5"/>
<use href="#m" x="632.5" y="427.5"/>
<use href="#m" x="633.5" y="427.5"/>
<use href="#m" x="635.5" y="427.5"/>
<use href="#m" x="636.5" y="427.5"/>
<use href="#m" x="637.5" y="427.5"/>
<use href="#m" x="639.5" y="427.5"/>
<use href="#m" x="640.5" y="427.5"/>
<use href="#m" x="642.5" y="427.5"/>
<use href="#m" x="643.5" y="427.5"/>
<use href="#m" x="644.5" y="427.5"/>
<use href="#m" x="646.5" y="427.5"/>
<use href="#m" x="647.5" y="427.5"/>
<use href="#m" x="648.5" y="427.5"/>
<use href="#m" x="650.5" y="428.5"/>
<use href="#m" x="651.5" y="427.5"/>
<use href="#m" x="652.5" y="428.5"/>
<use href="#m" x="654.5" y="428.5"/>
<use href="#m" x="655.5" y="428.5"/>
<use href="#m" x="657.5" y="428.5"/>
<use href="#m" x="658.5" y="428.5"/>
<use href="#m" x="659.5" y="428.5"/>
<use href="#m" x="661.5" y="428.5"/>
<use href="#m" x="662.5" y="428.5"/>
<use href="#m" x="663.5" y="428.5"/>
<use href="#m" x="665.5" y="428.5"/>
<use href="#m" x="666.5" y="429.5"/>
<use href="#m" x="667.5" y="429.5"/>
<use href="#m" x="669.5" y="429.5"/>
<use href="#m" x="670.5" y="429.5"/>
<use href="#m" x="672.5" y="429.5"/>
<use href="#m" x="673.5" y="429.5"/>
<use href="#m" x="674.5" y="429.5"/>
<use href="#m" x="676.5" y="429.5"/>
<use href="#m" x="677.5" y="429.5"/>
<use href="#m" x="678.5" y="430.5"/>
<use href="#m" x="680.5" y="429.5"/>
<use href="#m" x="681.5" y="430.5"/>
<use href="#m" x="682.5" y="430.5"/>
<use href="#m" x="684.5" y="430.5"/>
<use href="#m" x="685.5" y="430.5"/>
<use href="#m" x="687.5" y="430.5"/>
<use href="#m" x="688.5" y="430.5"/>
<use href="#m" x="689.5" y="431.5"/>
<use href="#m" x="691.5" y="431.5"/>
<use href="#m" x="692.5" y="431.5"/>
<use href="#m" x="693.5" y="431.5"/>
<use href="#m" x="695.5" y="431.5"/>
<use href="#m" x="696.5" y="431.5"/>
<use href="#m" x="697.5" y="431.5"/>
<use href="#m" x="699.5" y="431.5"/>
<use href="#m" x="742.5" y="427.5"/>
<use href="#m" x="743.5" y="427.5"/>
<use href="#m" x="744.5" y="427.5"/>
<use href="#m" x="746.5" y="427.5"/>
<use href="#m" x="747.5" y="427.5"/>
<use href="#m" x="765.5" y="431.5"/>
<use href="#m" x="766.5" y="431.5"/>
<use href="#m" x="768.5" y="430.5"/>
<use href="#m" x="769.5" y="430.5"/>
<use href="#m" x="770.5" y="430.5"/>
<use href="#m" x="772.5" y="430.5"/>
<use href="#m" x="773.5" y="430.5"/>
<use href="#m" x="774.5" y="430.5"/>
<use href="#m" x="776.5" y="429.5"/>
<use href="#m" x="777.5" y="429.5"/>
<use href="#m" x="779.5" y="429.5"/>
<use href="#m" x="780.5" y="429.5"/>
<use href="#m" x="783.5" y="429.5"/>
<use href="#m" x="784.5" y="428.5"/>
<use href="#m" x="785.5" y="428.5"/>
<use href="#m" x="787.5" y="428.5"/>
<use href="#m" x="788.5" y="428.5"/>
<use href="#m" x="789.5" y="428.5"/>
<use href="#m" x="791.5" y="428.5"/>
<use href="#m" x="792.5" y="427.5"/>
<use href="#m" x="793.5" y="427.5"/>
<use href="#m" x="796.5" y="427.5"/>
<use href="#m" x="798.5" y="427.5"/>
<use href="#m" x="799.5" y="427.5"/>
<use href="#m" x="800.5" y="426.5"/>
<use href="#m" x="802.5" y="426.5"/>
<use href="#m" x="803.5" y="426.5"/>
<use href="#m" x="804.5" y="426.5"/>
<use href="#m" x="806.5" y="425.5"/>
<use href="#m" x="807.5" y="425.5"/>
<use href="#m" x="808.5" y="425.5"/>
<use href="#m" x="810.5" y="425.5"/>
<use href="#m" x="811.5" y="425.5"/>
<use href="#m" x="812.5" y="424.5"/>
<use href="#m" x="814.5" y="424.5"/>
<use href="#m" x="815.5" y="424.5"/>
<use href="#m" x="817.5" y="424.5"/>
<use href="#m" x="818.5" y="424.5"/>
<use href="#m" x="819.5" y="424.5"/>
<use href="#m" x="821.5" y="423.5"/>
<use href="#m" x="822.5" y="423.5"/>
<use href="#m" x="823.5" y="423.5"/>
<use href="#m" x="825.5" y="423.5"/>
<use href="#m" x="826.5" y="423.5"/>
<use href="#m" x="827.5" y="422.5"/>
<use href="#m" x="829.5" y="422.5"/>
<use href="#m" x="830.5" y="422.5"/>
<use href="#m" x="831.5" y="422.5"/>
<use href="#m" x="833.5" y="422.5"/>
<use href="#m" x="838.5" y="421.5"/>
<use href="#m" x="840.5" y="420.5"/>
<use href="#m" x="841.5" y="421.5"/>
<use href="#m" x="842.5" y="420.5"/>
<use href="#m" x="844.5" y="420.5"/>
<use href="#m" x="845.5" y="420.5"/>
<use href="#m" x="848.5" y="419.5"/>
<use href="#m" x="849.5" y="419.5"/>
<use href="#m" x="850.5" y="419.5"/>
<use href="#m" x="852.5" y="419.5"/>
<use href="#m" x="853.5" y="418.5"/>
<use href="#m" x="854.5" y="418.5"/>
<use href="#m" x="856.5" y="418.5"/>
<use href="#m" x="857.5" y="418.5"/>
<use href="#m" x="859.5" y="417.5"/>
<use href="#m" x="860.5" y="417.5"/>
<use href="#m" x="861.5" y="416.5"/>
<use href="#m" x="863.5" y="416.5"/>
<use href="#m" x="864.5" y="416.5"/>
<use href="#m" x="865.5" y="416.5"/>
<use href="#m" x="867.5" y="415.5"/>
<use href="#m" x="868.5" y="415.5"/>
<use href="#m" x="869.5" y="414.5"/>
<use href="#m" x="871.5" y="414.5"/>
<use href="#m" x="872.5" y="414.5"/>
<use href="#m" x="873.5" y="414.5"/>
<use href="#m" x="875.5" y="414.5"/>
<use href="#m" x="876.5" y="413.5"/>
<use href="#m" x="878.5" y="413.5"/>
<use href="#m" x="879.5" y="413.5"/>
<use href="#m" x="880.5" y="412.5"/>
<use href="#m" x="882.5" y="412.5"/>
<use href="#m" x="883.5" y="412.5"/>
<use href="#m" x="884.5" y="411.5"/>
<use href="#m" x="886.5" y="411.5"/>
<use href="#m" x="887.5" y="411.5"/>
<use href="#m" x="888.5" y="411.5"/>
<use href="#m" x="890.5" y="410.5"/>
<use href="#m" x="891.5" y="410.5"/>
<use href="#m" x="892.5" y="410.5"/>
<use href="#m" x="894.5" y="409.5"/>
<use href="#m" x="895.5" y="409.5"/>
<use href="#m" x="897.5" y="409.5"/>
<use href="#m" x="901.5" y="408.5"/>
<use href="#m" x="902.5" y="408.5"/>
<use href="#m" x="903.5" y="407.5"/>
<use href="#m" x="905.5" y="407.5"/>
<use href="#m" x="906.5" y="407.5"/>
<use href="#m" x="908.5" y="406.5"/>
<use href="#m" x="909.5" y="407.5"/>
<use href="#m" x="910.5" y="406.5"/>
<use href="#m" x="774.5" y="401.5"/>
<use href="#m" x="775.5" y="401.5"/>
<use href="#m" x="777.5" y="401.5"/>
<use href="#m" x="778.5" y="400.5"/>
<use href="#m" x="779.5" y="400.5"/>
<use href="#m" x="781.5" y="400.5"/>
<use href="#m" x="782.5" y="399.5"/>
<use href="#m" x="784.5" y="399.5"/>
<use href="#m" x="785.5" y="399.5"/>
<use href="#m" x="786.5" y="398.5"/>
<use href="#m" x="788.5" y="398.5"/>
<use href="#m" x="789.5" y="398.5"/>
<use href="#m" x="790.5" y="398.5"/>
<use href="#m" x="792.5" y="397.5"/>
<use href="#m" x="793.5" y="397.5"/>
<use href="#m" x="794.5" y="397.5"/>
<use href="#m" x="796.5" y="397.5"/>
<use href="#m" x="797.5" y="396.5"/>
<use href="#m" x="798.5" y="396.5"/>
<use href="#m" x="800.5" y="396.5"/>
<use href="#m" x="801.5" y="396.5"/>
<use href="#m" x="803.5" y="395.5"/>
<use href="#m" x="804.5" y="395.5"/>
<use href="#m" x="805.5" y="395.5"/>
<use href="#m" x="807.5" y="394.5"/>
<use href="#m" x="808.5" y="394.5"/>
<use href="#m" x="809.5" y="394.5"/>
<use href="#m" x="811.5" y="394.5"/>
<use href="#m" x="812.5" y="393.5"/>
<use href="#m" x="813.5" y="393.5"/>
<use href="#m" x="815.5" y="393.5"/>
<use href="#m" x="816.5" y="392.5"/>
<use href="#m" x="817.5" y="392.5"/>
<use href="#m" x="819.5" y="392.5"/>
<use href="#m" x="820.5" y="392.5"/>
<use href="#m" x="822.5" y="391.5"/>
<use href="#m" x="823.5" y="391.5"/>
<use href="#m" x="824.5" y="391.5"/>
<use href="#m" x="826.5" y="391.5"/>
<use href="#m" x="827.5" y="390.5"/>
<use href="#m" x="828.5" y="390.5"/>
<use href="#m" x="830.5" y="390.5"/>
<use href="#m" x="831.5" y="390.5"/>
<use href="#m" x="832.5" y="389.5"/>
<use href="#m" x="834.5" y="389.5"/>
<use href="#m" x="835.5" y="389.5"/>
<use href="#m" x="836.5" y="388.5"/>
<use href="#m" x="838.5" y="388.5"/>
<use href="#m" x="839.5" y="388.5"/>
<use href="#m" x="841.5" y="388.5"/>
<use href="#m" x="842.5" y="387.5"/>
<use href="#m" x="843.5" y="387.5"/>
<use href="#m" x="845.5" y="387.5"/>
<use href="#m" x="846.5" y="386.5"/>
<use href="#m" x="847.5" y="386.5"/>
<use href="#m" x="849.5" y="386.5"/>
<use href="#m" x="850.5" y="385.5"/>
<use href="#m" x="875.5" y="379.5"/>
<use href="#m" x="878.5" y="379.5"/>
<use href="#m" x="881.5" y="378.5"/>
<use href="#m" x="882.5" y="379.5"/>
<use href="#m" x="883.5" y="377.5"/>
<use href="#m" x="889.5" y="377.5"/>
<use href="#m" x="891.5" y="377.5"/>
<use href="#m" x="892.5" y="377.5"/>
<use href="#m" x="893.5" y="376.5"/>
<use href="#m" x="894.5" y="376.5"/>
<use href="#m" x="896.5" y="375.5"/>
<use href="#m" x="897.5" y="376.5"/>
<use href="#m" x="898.5" y="375.5"/>
<use href="#m" x="805.5" y="443.5"/>
<use href="#m" x="806.5" y="444.5"/>
<use href="#m" x="807.5" y="443.5"/>
<use href="#m" x="808.5" y="444.5"/>
<use href="#m" x="810.5" y="443.5"/>
<use href="#m" x="811.5" y="444.5"/>
<use href="#m" x="812.5" y="443.5"/>
</g>
<g stroke="#000" stroke-width="1.11" fill="none">
<line x1="87.5" y1="537.5" x2="87.5" y2="542.36"/>
<line x1="249.5" y1="537.5" x2="249.5" y2="542.36"/>
<line x1="412.5" y1="537.5" x2="412.5" y2="542.36"/>
<line x1="575.5" y1="537.5" x2="575.5" y2="542.36"/>
<line x1="737.5" y1="537.5" x2="737.5" y2="542.36"/>
<line x1="900.5" y1="537.5" x2="900.5" y2="542.36"/>
<line x1="52.64" y1="54.5" x2="57.5" y2="54.5"/>
<line x1="52.64" y1="132.5" x2="57.5" y2="132.5"/>
<line x1="52.64" y1="210.5" x2="57.5" y2="210.5"/>
<line x1="52.64" y1="288.5" x2="57.5" y2="288.5"/>
<line x1="52.64" y1="365.5" x2="57.5" y2="365.5"/>
<line x1="52.64" y1="443.5" x2="57.5" y2="443.5"/>
<line x1="52.64" y1="521.5" x2="57.5" y2="521.5"/>
<rect x="57.5" y="32.5" width="894" height="505" stroke-linejoin="miter"/>
</g>
<g font-size="13.89px" text-anchor="middle">
<text transform="translate(87.03 557.3) scale(0.994 1)">2025-05-02 08:07:00</text>
<text transform="translate(249.03 557.3) scale(0.994 1)">2025-05-02 08:08:00</text>
<text transform="translate(412.03 557.3) scale(0.994 1)">2025-05-02 08:09:00</text>
<text transform="translate(575.03 557.3) scale(0.994 1)">2025-05-02 08:10:00</text>
<text transform="translate(737.03 557.3) scale(0.994 1)">2025-05-02 08:11:00</text>
<text transform="translate(900.03 557.3) scale(0.994 1)">2025-05-02 08:12:00</text>
<text transform="translate(504.7 577) scale(1.011 1.04)">Time (UTC)</text>
<text transform="translate(19.5 285.55) rotate(-90) scale(1.0085 1.02)">Bistatic Delay (km)</text>
</g>
<g font-size="13.89px" text-anchor="end">
<text x="47.8" y="526.6">0</text>
<text x="46.98" y="448.77">10</text>
<text x="47.8" y="370.94">20</text>
<text x="46.98" y="293.11">30</text>
<text x="46.98" y="215.28">40</text>
<text x="46.98" y="137.45">50</text>
<text x="47.8" y="59.62">60</text>
</g>
<text transform="translate(504.4 23.8) scale(1 1.083)" font-size="16.67px" text-anchor="middle">Detections in Delay</text>
</svg></body></html>
